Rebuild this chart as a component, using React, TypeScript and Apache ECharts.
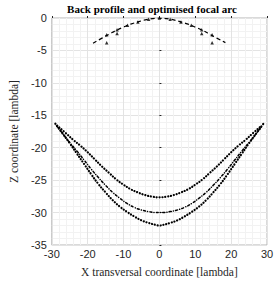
import React, { useEffect, useRef } from "react";
import * as echarts from "echarts";

const titleText = "Back profile and optimised focal arc";
const xName = "X transversal coordinate [lambda]";
const yName = "Z coordinate [lambda]";

// Back profile (dashed)
const profileX = [-18.5, -16, -14, -12, -10, -8, -6, -4, -2, 0, 2, 4, 6, 8, 10, 12, 14, 16, 18.4];
const profileZ = [-3.9, -3.1, -2.5, -1.9, -1.4, -0.95, -0.6, -0.3, -0.1, 0, -0.1, -0.3, -0.6, -0.95, -1.4, -1.9, -2.5, -3.1, -3.8];

// Element markers on the profile
const elemX = [-14.7, -14.7, -11.8, -11.8, -8.9, -6, -3, 0, 3, 6, 8.9, 11.8, 11.8, 14.7, 14.7];
const elemZ = [-2.6, -3.8, -1.8, -2.4, -1.1, -0.6, -0.2, 0, -0.2, -0.6, -1.1, -1.8, -2.4, -2.6, -3.8];

// Inner focal arc (dotted)
const innerX = [-28.5, -26, -24, -22, -20, -18, -16, -14, -12, -10, -8, -6, -4, -2, 0, 2, 4, 6, 8, 10, 12, 14, 16, 18, 20, 22, 24, 26, 28.5];
const innerZ = [-16.6, -17.8, -18.8, -19.7, -20.7, -21.8, -22.9, -23.9, -24.9, -25.7, -26.4, -26.9, -27.3, -27.55, -27.65, -27.55, -27.3, -26.9, -26.4, -25.7, -24.9, -23.9, -22.9, -21.8, -20.7, -19.7, -18.8, -17.8, -16.6];

// Middle focal arc (dashed / dotted)
const midX = [-28.7, -27, -25, -23, -21, -19, -17, -15, -13, -11, -9, -7, -5, -3, -1, 0, 1, 3, 5, 7, 9, 11, 13, 15, 17, 19, 21, 23, 25, 27, 28.7];
const midZ = [-16.6, -17.8, -19.2, -20.5, -21.9, -23.3, -24.6, -25.8, -26.9, -27.8, -28.6, -29.2, -29.6, -29.85, -30.0, -30.0, -30.0, -29.85, -29.6, -29.2, -28.6, -27.8, -26.9, -25.8, -24.6, -23.3, -21.9, -20.5, -19.2, -17.8, -16.6];

// Outer focal arc (dotted)
const outerX = [-29, -27, -25, -23, -21, -19, -17, -15, -13, -11, -9, -7, -5, -3, -1, 0, 1, 3, 5, 7, 9, 11, 13, 15, 17, 19, 21, 23, 25, 27, 29];
const outerZ = [-16.3, -17.8, -19.3, -20.9, -22.5, -24.1, -25.6, -26.9, -28.1, -29.1, -29.9, -30.6, -31.2, -31.6, -31.9, -32.0, -31.9, -31.6, -31.2, -30.6, -29.9, -29.1, -28.1, -26.9, -25.6, -24.1, -22.5, -20.9, -19.3, -17.8, -16.3];

const pairs = (xs: number[], ys: number[]) => xs.map((x, i) => [x, ys[i]]);

export default function App() {
  const ref = useRef<HTMLDivElement>(null);
  useEffect(() => {
    if (!ref.current) return;
    const chart = echarts.init(ref.current, undefined, { renderer: "svg" });
    const tickFont = { fontFamily: "Liberation Sans", fontSize: 11, color: "#262626" };
    const serif = "Liberation Serif";
    chart.setOption({
      animation: false,
      backgroundColor: "#ffffff",
      grid: { left: 37, right: 12, top: 18, bottom: 35, show: true, borderColor: "#b4b4b4", borderWidth: 1, containLabel: false },
      graphic: [
        {
          type: "text",
          x: 152,
          y: 9,
          style: { text: titleText, fontFamily: serif, fontWeight: "bold", fontSize: 11, fill: "#000", textAlign: "center", textVerticalAlign: "middle" },
        },
      ],
      xAxis: {
        type: "value",
        min: -30,
        max: 30,
        interval: 10,
        name: xName,
        nameLocation: "middle",
        nameGap: 21,
        nameTextStyle: { fontFamily: serif, fontSize: 11.5, color: "#262626" },
        axisLine: { show: false },
        axisTick: { show: true, inside: true, length: 2, lineStyle: { color: "#262626" } },
        axisLabel: { ...tickFont, margin: 3 },
        splitLine: { show: true, lineStyle: { color: "#e3e3e3", width: 1 } },
        minorTick: { show: false, splitNumber: 5 },
        minorSplitLine: { show: true, lineStyle: { color: "#f2f2f2", width: 1 } },
      },
      yAxis: {
        type: "value",
        min: -35,
        max: 0,
        interval: 5,
        name: yName,
        nameLocation: "middle",
        nameGap: 23,
        nameTextStyle: { fontFamily: serif, fontSize: 11.5, color: "#262626" },
        axisLine: { show: false },
        axisTick: { show: true, inside: true, length: 2, lineStyle: { color: "#262626" } },
        axisLabel: { ...tickFont, margin: 5 },
        splitLine: { show: true, lineStyle: { color: "#e3e3e3", width: 1 } },
        minorTick: { show: false, splitNumber: 5 },
        minorSplitLine: { show: true, lineStyle: { color: "#f2f2f2", width: 1 } },
      },
      series: [
        {
          type: "line",
          data: pairs(profileX, profileZ),
          smooth: true,
          showSymbol: false,
          lineStyle: { color: "#000", width: 1.2, type: [4, 3] },
          silent: true,
        },
        {
          type: "scatter",
          data: pairs(elemX, elemZ),
          symbol: "triangle",
          symbolSize: 3.5,
          itemStyle: { color: "#000" },
          silent: true,
        },
        {
          type: "line",
          data: pairs(innerX, innerZ),
          smooth: true,
          showSymbol: false,
          lineStyle: { color: "#000", width: 2.2, type: [0.1, 2.8], cap: "round" },
          silent: true,
        },
        {
          type: "line",
          data: pairs(midX, midZ),
          smooth: true,
          showSymbol: false,
          lineStyle: { color: "#000", width: 1.5, type: [2, 2.2, 0.1, 2.2], cap: "round" },
          silent: true,
        },
        {
          type: "line",
          data: pairs(outerX, outerZ),
          smooth: true,
          showSymbol: false,
          lineStyle: { color: "#000", width: 2.2, type: [0.1, 2.8], cap: "round" },
          silent: true,
        },
      ],
    });
    return () => chart.dispose();
  }, []);
  return <div ref={ref} style={{ position: "fixed", left: 0, top: 0, width: 279, height: 283 }} />;
}
